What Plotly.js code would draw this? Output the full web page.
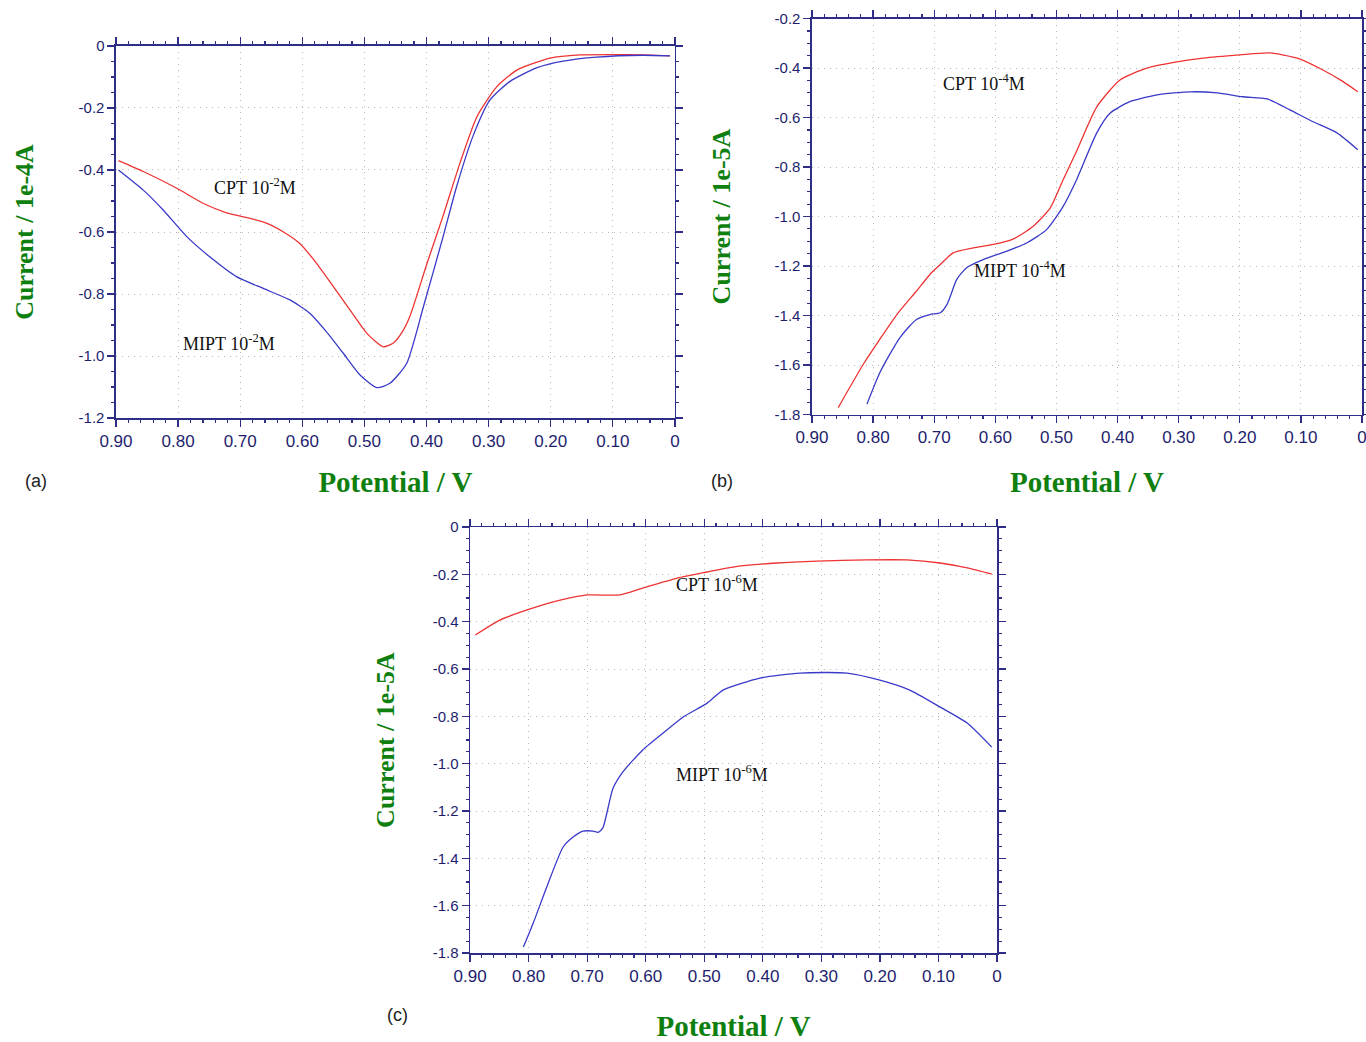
<!DOCTYPE html>
<html>
<head>
<meta charset="utf-8">
<script src="https://cdn.plot.ly/plotly-3.0.1.min.js"></script>
<style>html,body{margin:0;padding:0;background:#fff;}#chart{width:1366px;height:1042px;}</style>
</head>
<body>
<div id="chart"></div>
<script>
// Panel (a): 10^-2 M, current in 1e-4 A
const aCptX = [0.896,0.856,0.802,0.759,0.722,0.684,0.657,0.631,0.604,0.577,0.550,0.523,0.496,0.470,0.454,0.440,0.427,0.399,0.374,0.346,0.319,0.287,0.254,0.201,0.153,0.100,0.052,0.008];
const aCptY = [-0.370,-0.405,-0.459,-0.508,-0.538,-0.556,-0.572,-0.599,-0.637,-0.701,-0.776,-0.852,-0.927,-0.970,-0.959,-0.925,-0.873,-0.700,-0.552,-0.377,-0.229,-0.132,-0.077,-0.039,-0.029,-0.028,-0.029,-0.032];
const aMiptX = [0.896,0.856,0.824,0.786,0.749,0.706,0.663,0.620,0.588,0.561,0.534,0.507,0.480,0.459,0.432,0.405,0.374,0.351,0.325,0.298,0.266,0.222,0.180,0.126,0.052,0.008];
const aMiptY = [-0.400,-0.465,-0.529,-0.615,-0.680,-0.744,-0.782,-0.819,-0.862,-0.922,-0.991,-1.061,-1.102,-1.088,-1.024,-0.841,-0.620,-0.450,-0.290,-0.175,-0.115,-0.070,-0.049,-0.036,-0.030,-0.032];

// Panel (b): 10^-4 M, current in 1e-5 A
const bCptX = [0.857,0.816,0.789,0.761,0.729,0.707,0.690,0.669,0.636,0.603,0.570,0.538,0.510,0.489,0.466,0.434,0.396,0.352,0.303,0.260,0.200,0.151,0.106,0.064,0.031,0.007];
const bCptY = [-1.772,-1.597,-1.496,-1.396,-1.301,-1.234,-1.194,-1.147,-1.127,-1.113,-1.090,-1.039,-0.965,-0.851,-0.730,-0.557,-0.448,-0.400,-0.375,-0.360,-0.347,-0.339,-0.360,-0.408,-0.455,-0.496];
const bMiptX = [0.810,0.789,0.756,0.729,0.707,0.690,0.679,0.663,0.647,0.620,0.581,0.548,0.516,0.489,0.467,0.434,0.412,0.380,0.335,0.281,0.237,0.195,0.155,0.118,0.080,0.041,0.007];
const bMiptY = [-1.758,-1.631,-1.489,-1.416,-1.396,-1.389,-1.355,-1.254,-1.207,-1.174,-1.140,-1.106,-1.053,-0.959,-0.851,-0.662,-0.582,-0.536,-0.508,-0.496,-0.500,-0.516,-0.525,-0.569,-0.617,-0.662,-0.730];

// Panel (c): 10^-6 M, current in 1e-5 A
const cCptX = [0.891,0.849,0.792,0.746,0.700,0.644,0.605,0.546,0.495,0.451,0.376,0.307,0.222,0.154,0.097,0.051,0.009];
const cCptY = [-0.456,-0.393,-0.342,-0.309,-0.287,-0.287,-0.258,-0.216,-0.190,-0.169,-0.152,-0.144,-0.139,-0.139,-0.152,-0.173,-0.199];
const cMiptX = [0.809,0.792,0.769,0.741,0.724,0.707,0.690,0.681,0.673,0.656,0.639,0.605,0.564,0.536,0.495,0.468,0.405,0.336,0.256,0.200,0.149,0.097,0.051,0.009];
const cMiptY = [-1.775,-1.673,-1.521,-1.352,-1.310,-1.285,-1.285,-1.290,-1.270,-1.105,-1.035,-0.942,-0.858,-0.803,-0.744,-0.689,-0.638,-0.617,-0.617,-0.647,-0.689,-0.761,-0.828,-0.930];

const xTickVals = [0.9,0.8,0.7,0.6,0.5,0.4,0.3,0.2,0.1,0];
const xTickText = ["0.90","0.80","0.70","0.60","0.50","0.40","0.30","0.20","0.10","0"];
const aYTickVals = [0,-0.2,-0.4,-0.6,-0.8,-1.0,-1.2];
const aYTickText = ["0","-0.2","-0.4","-0.6","-0.8","-1.0","-1.2"];
const bYTickVals = [-0.2,-0.4,-0.6,-0.8,-1.0,-1.2,-1.4,-1.6,-1.8];
const bYTickText = ["-0.2","-0.4","-0.6","-0.8","-1.0","-1.2","-1.4","-1.6","-1.8"];
const cYTickVals = [0,-0.2,-0.4,-0.6,-0.8,-1.0,-1.2,-1.4,-1.6,-1.8];
const cYTickText = ["0","-0.2","-0.4","-0.6","-0.8","-1.0","-1.2","-1.4","-1.6","-1.8"];

const RED = '#ee3333', BLUE = '#3a3ac8';
const AXC = '#2e2e86', TICKC = '#1e1e6e', GREEN = '#0f7f0f', GRIDC = '#b8b8b8';

function line(x, y, color, xa, ya, name) {
  return {x: x, y: y, type: 'scatter', mode: 'lines', name: name, xaxis: xa, yaxis: ya,
          line: {color: color, width: 1.3, shape: 'spline', smoothing: 0.6}, showlegend: false, hoverinfo: 'x+y'};
}

const data = [
  line(aCptX, aCptY, RED, 'x', 'y', 'CPT 10^-2 M'),
  line(aMiptX, aMiptY, BLUE, 'x', 'y', 'MIPT 10^-2 M'),
  line(bCptX, bCptY, RED, 'x2', 'y2', 'CPT 10^-4 M'),
  line(bMiptX, bMiptY, BLUE, 'x2', 'y2', 'MIPT 10^-4 M'),
  line(cCptX, cCptY, RED, 'x3', 'y3', 'CPT 10^-6 M'),
  line(cMiptX, cMiptY, BLUE, 'x3', 'y3', 'MIPT 10^-6 M')
];

function xAxis(domain, anchor, standoff) {
  return {domain: domain, anchor: anchor, range: [0.9, 0], autorange: false,
    tickvals: xTickVals, ticktext: xTickText, tickfont: {family: 'Liberation Sans, Arial', size: 17, color: TICKC},
    ticklabeloverflow: 'allow',
    showline: true, linecolor: AXC, linewidth: 1.5, mirror: 'ticks', ticks: 'outside', ticklen: 7, tickcolor: AXC, tickwidth: 1.2,
    minor: {dtick: 0.02, tick0: 0, ticks: 'outside', ticklen: 3, tickcolor: AXC, showgrid: false},
    showgrid: true, gridcolor: GRIDC, griddash: '1px,5px', gridwidth: 1, zeroline: false,
    title: {text: '<b>Potential / V</b>', font: {family: 'Liberation Serif, Times New Roman', size: 29, color: GREEN}, standoff: standoff}};
}
function yAxis(domain, anchor, range, tv, tt, title, standoff) {
  return {domain: domain, anchor: anchor, range: range, autorange: false,
    tickvals: tv, ticktext: tt, tickfont: {family: 'Liberation Sans, Arial', size: 15, color: TICKC},
    showline: true, linecolor: AXC, linewidth: 1.5, mirror: 'ticks', ticks: 'outside', ticklen: 7, tickcolor: AXC, tickwidth: 1.2,
    minor: {dtick: 0.05, tick0: 0, ticks: 'outside', ticklen: 3, tickcolor: AXC, showgrid: false},
    showgrid: true, gridcolor: GRIDC, griddash: '1px,5px', gridwidth: 1, zeroline: false,
    title: {text: '<b>' + title + '</b>', font: {family: 'Liberation Serif, Times New Roman', size: 26, color: GREEN}, standoff: standoff}};
}

const lblFont = {family: 'Liberation Serif, Times New Roman', size: 18, color: '#111'};
const panFont = {family: 'Liberation Sans, Arial', size: 18, color: '#222'};

const layout = {
  width: 1366, height: 1042, margin: {l: 0, r: 0, t: 0, b: 0},
  paper_bgcolor: '#fff', plot_bgcolor: '#fff', showlegend: false,
  xaxis: xAxis([0.0849, 0.4941], 'y', 21),
  yaxis: yAxis([0.5988, 0.9559], 'x', [-1.2, 0], aYTickVals, aYTickText, 'Current / 1e-4A', 37),
  xaxis2: xAxis([0.5944, 0.9971], 'y2', 25),
  yaxis2: yAxis([0.6022, 0.9822], 'x2', [-1.8, -0.2], bYTickVals, bYTickText, 'Current / 1e-5A', 36),
  xaxis3: xAxis([0.3441, 0.7299], 'y3', 32),
  yaxis3: yAxis([0.0854, 0.4942], 'x3', [-1.8, 0], cYTickVals, cYTickText, 'Current / 1e-5A', 30),
  annotations: [
    {xref: 'x', yref: 'y', x: 0.676, y: -0.452, text: 'CPT 10<sup>-2</sup>M', showarrow: false, font: lblFont},
    {xref: 'x', yref: 'y', x: 0.718, y: -0.955, text: 'MIPT 10<sup>-2</sup>M', showarrow: false, font: lblFont},
    {xref: 'x2', yref: 'y2', x: 0.619, y: -0.460, text: 'CPT 10<sup>-4</sup>M', showarrow: false, font: lblFont},
    {xref: 'x2', yref: 'y2', x: 0.560, y: -1.214, text: 'MIPT 10<sup>-4</sup>M', showarrow: false, font: lblFont},
    {xref: 'x3', yref: 'y3', x: 0.478, y: -0.237, text: 'CPT 10<sup>-6</sup>M', showarrow: false, font: lblFont},
    {xref: 'x3', yref: 'y3', x: 0.470, y: -1.040, text: 'MIPT 10<sup>-6</sup>M', showarrow: false, font: lblFont},
    {xref: 'paper', yref: 'paper', x: 23/1366, y: 1 - 481/1042, text: '(a)', showarrow: false, font: panFont},
    {xref: 'paper', yref: 'paper', x: 722/1366, y: 1 - 481/1042, text: '(b)', showarrow: false, font: panFont},
    {xref: 'paper', yref: 'paper', x: 385/1366, y: 1 - 1027/1042, text: '(c)', showarrow: false, font: panFont}
  ]
};

Plotly.newPlot('chart', data, layout, {displayModeBar: false, staticPlot: true});
</script>
</body>
</html>
